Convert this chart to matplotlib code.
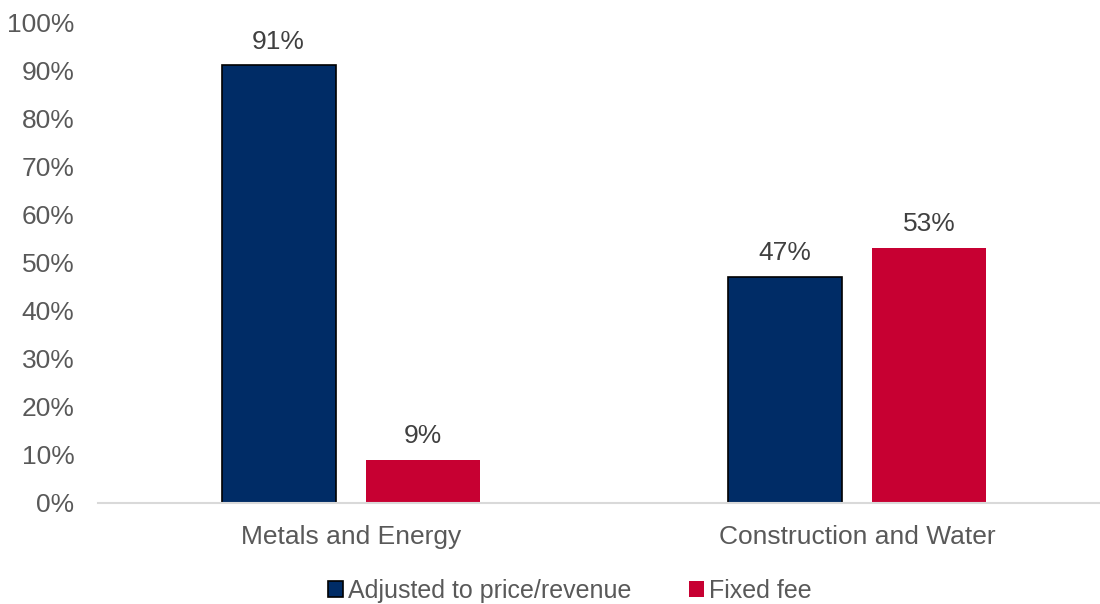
import numpy as np
import matplotlib.pyplot as plt
from matplotlib.patches import Patch

plt.rcParams['font.family'] = ['Liberation Sans', 'DejaVu Sans']

categories = ["Metals and Energy", "Construction and Water"]
series_names = ["Adjusted to price/revenue", "Fixed fee"]
adjusted = [91, 47]
fixed_fee = [9, 53]

navy = "#002C66"
red = "#C70032"
grey_text = "#595959"

fig = plt.figure(figsize=(11, 6.04), dpi=100)
ax = fig.add_axes([98 / 1100, 101 / 604, 1012 / 1100, 481 / 604])

x = np.arange(len(categories))
w = 0.225
off = 0.143

b1 = ax.bar(x - off, adjusted, w, color=navy, edgecolor="black", linewidth=1.2)
b2 = ax.bar(x + off, fixed_fee, w, color=red)

for bars, vals in ((b1, adjusted), (b2, fixed_fee)):
    for b, v in zip(bars, vals):
        ax.annotate(f"{v}%", (b.get_x() + b.get_width() / 2, v),
                    xytext=(0, 17), textcoords="offset points",
                    ha="center", va="center", fontsize=19, color="#404040")

ax.set_xlim(-0.5, 1.5)
ax.set_ylim(0, 100)
ax.set_yticks(np.arange(0, 101, 10))
ax.set_yticklabels([f"{t}%" for t in range(0, 101, 10)])
ax.set_xticks(x)
ax.set_xticklabels(categories)

for s in ("top", "right", "left"):
    ax.spines[s].set_visible(False)
ax.spines["bottom"].set_color("#D9D9D9")
ax.spines["bottom"].set_linewidth(1.5)
ax.tick_params(axis="both", length=0, labelsize=19, labelcolor=grey_text)
ax.tick_params(axis="x", pad=16)
ax.tick_params(axis="y", pad=17)

handles = [Patch(facecolor=navy, edgecolor="black", linewidth=1.2),
           Patch(facecolor=red)]
fig.legend(handles, series_names, loc="center", bbox_to_anchor=(0.518, 0.022),
           ncol=2, frameon=False, fontsize=18, labelcolor=grey_text,
           handlelength=0.6, handleheight=0.6, handletextpad=0.2, columnspacing=2.3)

fig.savefig("out.png", dpi=100)
